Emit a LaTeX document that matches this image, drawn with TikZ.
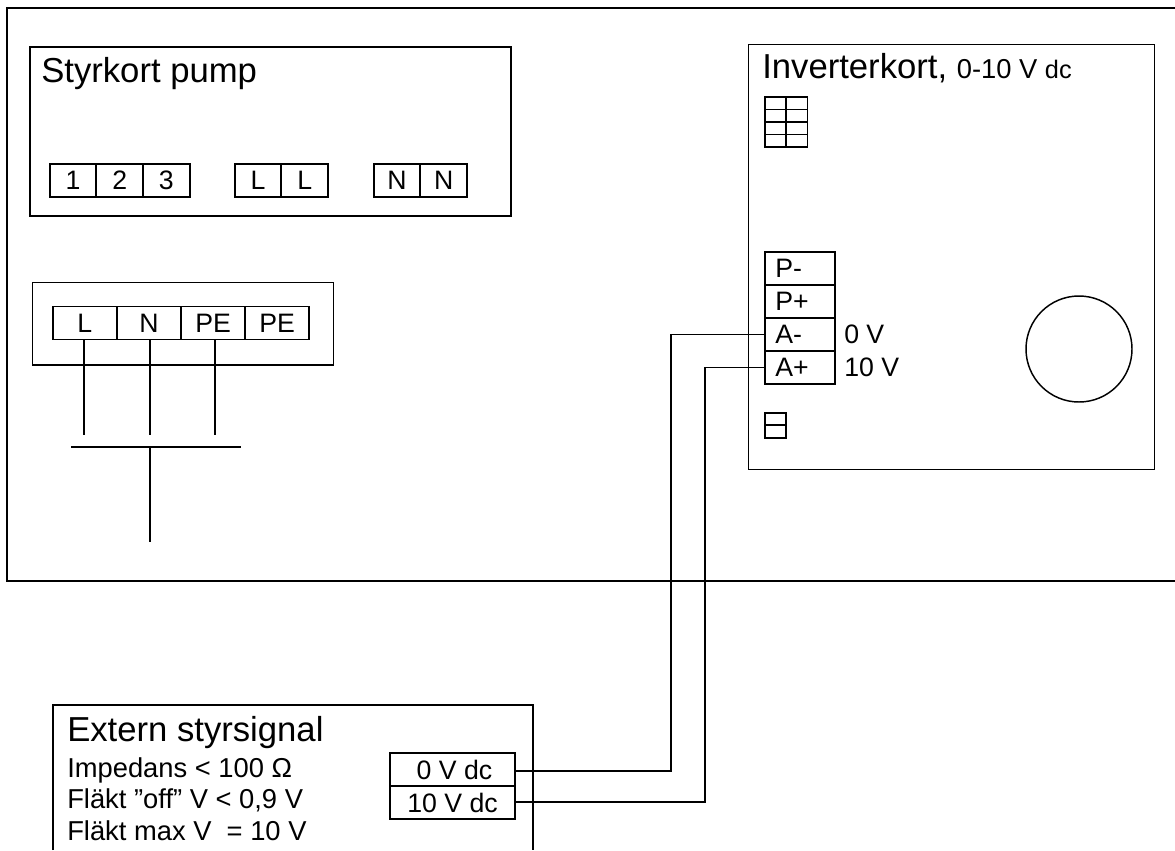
\documentclass[tikz,border=0pt]{standalone}
\usepackage{fontspec}
\setmainfont{Liberation Sans}
\usepackage{tikz}
\usetikzlibrary{positioning}
\tikzstyle{board} = [rectangle, draw, line width=1.5pt, inner sep=0pt, anchor=north west]
\tikzstyle{thinboard} = [board, line width=1.1pt]
\tikzstyle{terminal} = [rectangle, draw, line width=1.3pt, inner sep=0pt, outer sep=0pt, minimum height=24.75pt, font=\fontsize{20}{20}\selectfont]
\tikzstyle{title} = [inner sep=0pt, anchor=base west, font=\fontsize{26}{26}\selectfont]
\tikzstyle{note} = [inner sep=0pt, anchor=base west, font=\fontsize{20.5}{20}\selectfont]
\tikzstyle{cell} = [rectangle, draw, line width=1.2pt, inner sep=0pt, outer sep=0pt, minimum width=16pt, minimum height=9.4pt]
\tikzstyle{line} = [draw, line width=1.1pt]

\begin{document}
\begin{tikzpicture}[x=0.75pt,y=-0.75pt]
    \useasboundingbox (0,0) rectangle (1175,850);
    % Place nodes
    \coordinate (frameTop) at (1175,8);
    \coordinate (frameBottom) at (1175,581);
    \coordinate (frameCorner) at (7,8);
    \coordinate (externLeft) at (53,850);
    \coordinate (externRight) at (533,850);
    \coordinate (externCorner) at (53,705);

    \node [board,minimum width=360.75pt,minimum height=126.75pt] (styrkort) at (29,45.5) {};
    \node [title] (styrkortText) at (41,82) {Styrkort pump};
    \node [terminal,minimum width=35pt] (t1) at (73,180.5) {1};
    \node [terminal,minimum width=35pt,right=0pt of t1] (t2) {2};
    \node [terminal,minimum width=35pt,right=0pt of t2] (t3) {3};
    \node [terminal,minimum width=35pt] (l1) at (258,180.5) {L};
    \node [terminal,minimum width=35pt,right=0pt of l1] (l2) {L};
    \node [terminal,minimum width=35pt] (n1) at (397,180.5) {N};
    \node [terminal,minimum width=35pt,right=0pt of n1] (n2) {N};

    \node [thinboard,minimum width=225.75pt,minimum height=62pt] (natbox) at (31.5,281.5) {};
    \node [terminal,minimum width=48.1pt] (natL) at (84.8,323) {L};
    \node [terminal,minimum width=48.1pt,right=0pt of natL] (natN) {N};
    \node [terminal,minimum width=48.1pt,right=0pt of natN] (natPE) {PE};
    \node [terminal,minimum width=48.1pt,right=0pt of natPE] (natPEb) {PE};
    \coordinate (endL) at (84,435);
    \coordinate (endN) at (150,435);
    \coordinate (endPE) at (215,435);
    \coordinate (barLeft) at (71,447);
    \coordinate (barRight) at (241,447);
    \coordinate (barMid) at (150,447);
    \coordinate (stemEnd) at (150,542);

    \node [thinboard,minimum width=304.5pt,minimum height=319pt] (inverter) at (748,43.5) {};
    \node [title] (inverterText) at (762,78) {Inverterkort, {\fontsize{20.5}{20}\selectfont 0-10 V {\fontsize{19}{20}\selectfont dc}}};
    \foreach \row in {0,1,2,3}
        \foreach \col in {0,1}
            \node [cell] (grid\row\col) at (775.5+21.5*\col,103.25+12.5*\row) {};
    \node [cell] (smallA) at (775.5,419) {};
    \node [cell] (smallB) at (775.5,431.5) {};

    \node [terminal,minimum width=52pt,text width=37pt] (pMinus) at (800,268.5) {P-};
    \node [terminal,minimum width=52pt,text width=37pt,below=0pt of pMinus] (pPlus) {P+};
    \node [terminal,minimum width=52pt,text width=37pt,below=0pt of pPlus] (aMinus) {A-};
    \node [terminal,minimum width=52pt,text width=37pt,below=0pt of aMinus] (aPlus) {A+};
    \node [note,font=\fontsize{20}{20}\selectfont,right=7pt of aMinus.east] (zeroV) {0 V};
    \node [note,font=\fontsize{20}{20}\selectfont,right=7pt of aPlus.east] (tenV) {10 V};
    \node [circle,draw,line width=1.1pt,minimum size=79.5pt,inner sep=0pt] (fan) at (1079,349) {};

    \node [title] (externText) at (67,741) {Extern styrsignal};
    \node [note] (impedans) at (67,777) {Impedans < 100 Ω};
    \node [note] (off) at (67,808) {Fläkt ”off” V < 0,9 V};
    \node [note] (max) at (67,840) {Fläkt max V\ \ = 10 V};
    \node [terminal,minimum width=94pt] (zeroDc) at (452.5,769.5) {\hspace{3pt}0 V dc};
    \node [terminal,minimum width=94pt,below=0pt of zeroDc] (tenDc) {10 V dc\hspace{8pt}};
    \coordinate (zeroBend) at (671,771);
    \coordinate (tenBend) at (705,802);

    % Draw edges
    \path [line] (frameTop) -- (frameCorner) |- (frameBottom);
    \path [line] (externLeft) |- (externCorner -| externRight) -- (externRight);

    \path [line] (natL.south -| endL) -- (endL);
    \path [line] (natN.south -| endN) -- (endN);
    \path [line] (natPE.south -| endPE) -- (endPE);
    \path [line] (barLeft) -- (barRight);
    \path [line] (barMid) -- (stemEnd);

    \path [line] (zeroDc.east |- zeroBend) -- (zeroBend) |- (aMinus.west);
    \path [line] (tenDc.east |- tenBend) -- (tenBend) |- (aPlus.west);
\end{tikzpicture}
\end{document}
